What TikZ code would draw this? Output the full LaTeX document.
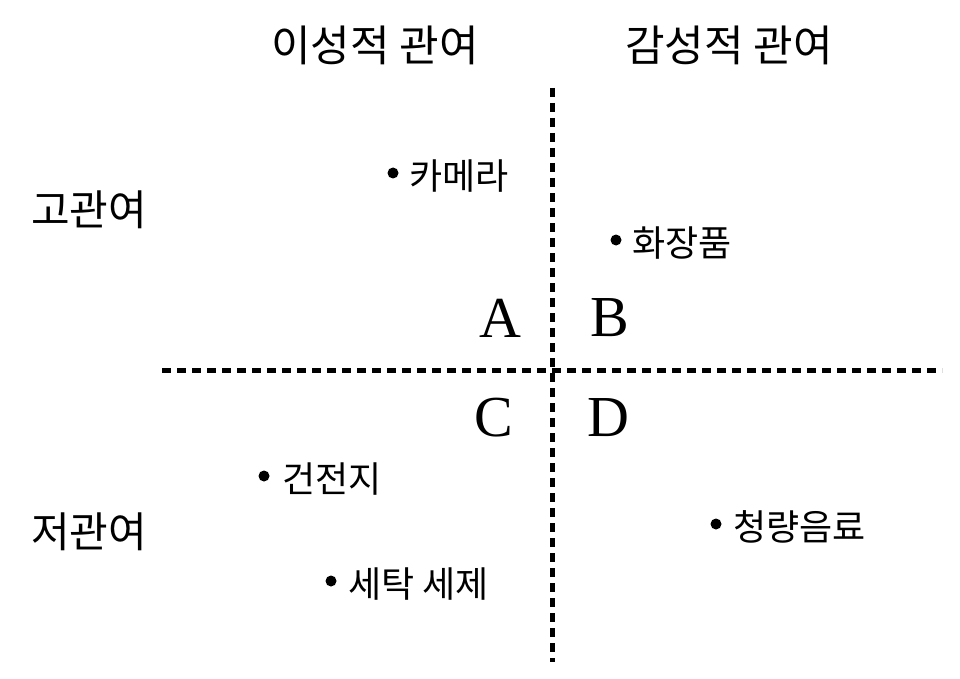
\documentclass[tikz,border=0pt]{standalone}
\usepackage{fontspec}
\setmainfont{Liberation Serif}
\newfontfamily\kr{Noto Sans CJK KR}
\begin{document}
\begin{tikzpicture}[x=1pt,y=-1pt,
  head/.style={font=\kr\fontsize{43}{45}\selectfont, inner sep=0pt},
  side/.style={font=\kr\fontsize{42}{44}\selectfont, inner sep=0pt},
  item/.style={font=\kr\fontsize{36}{38}\selectfont, inner sep=0pt, anchor=west},
  dotmark/.style={circle, fill=black, inner sep=0pt, minimum size=11pt},
  quad/.style={font=\fontsize{58}{60}\selectfont, inner sep=0pt},
  divider/.style={line width=5pt, dash pattern=on 9pt off 6pt}]
\useasboundingbox (0,0) rectangle (960,679);
% dividers
\coordinate (vt) at (552,88);
\coordinate (vb) at (552,662);
\coordinate (hl) at (162,370);
\coordinate (hr) at (942,370);
\draw[divider] (vt) -- (vb);
\draw[divider] (hl) -- (hr);
% headers
\node[head] (rat) at (375,45) {이성적 관여};
\node[head] (emo) at (729,45) {감성적 관여};
\node[side] (hi) at (89,210) {고관여};
\node[side] (lo) at (89,532) {저관여};
% quadrant letters
\node[quad] (qA) at (500,318) {A};
\node[quad] (qB) at (610,318) {B};
\node[quad] (qC) at (494,418) {C};
\node[quad] (qD) at (608,418) {D};
% items
\node[dotmark] (d1) at (393,173) {};
\node[item] (t1) at (409,176) {카메라};
\node[dotmark] (d2) at (616,240) {};
\node[item] (t2) at (632,243) {화장품};
\node[dotmark] (d3) at (264,476) {};
\node[item] (t3) at (282,479) {건전지};
\node[dotmark] (d4) at (331,581) {};
\node[item] (t4) at (348,584) {세탁 세제};
\node[dotmark] (d5) at (716,524) {};
\node[item] (t5) at (733,527) {청량음료};
\end{tikzpicture}
\end{document}
